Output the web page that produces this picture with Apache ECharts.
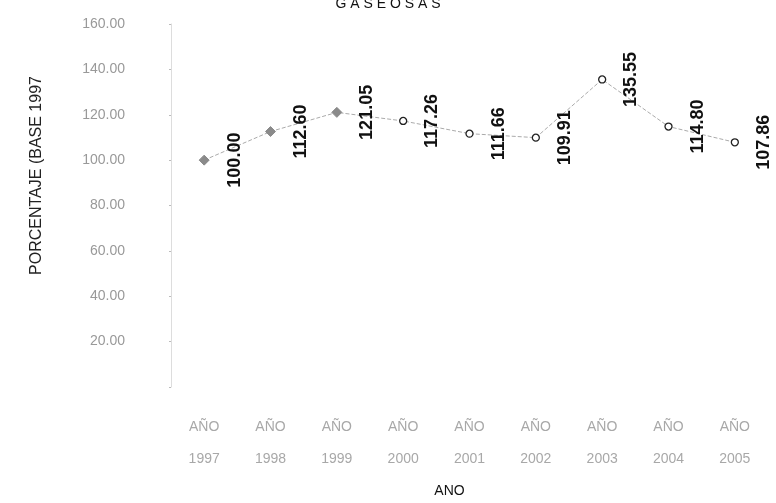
<!DOCTYPE html>
<html>
<head>
<meta charset="utf-8">
<script src="https://cdn.jsdelivr.net/npm/echarts@6/dist/echarts.min.js"></script>
<style>
  html, body { margin: 0; padding: 0; background: #fff; }
  #chart { width: 776px; height: 503px; }
</style>
</head>
<body>
<div id="chart"></div>
<script>
// datos
const years = ['1997', '1998', '1999', '2000', '2001', '2002', '2003', '2004', '2005']
const indice = [100.00, 112.60, 121.05, 117.26, 111.66, 109.91, 135.55, 114.80, 107.86]
const yTicks = [0, 20, 160] // min, intervalo, max

const categories = years.map(y => 'AÑO\n' + y)

const chart = echarts.init(document.getElementById('chart'))

const points = indice.map((v, i) => {
  // los tres primeros años van con marcador gris relleno
  if (i < 3) {
    return { value: v, symbol: 'diamond', symbolSize: 10, itemStyle: { color: '#8a8a8a', borderColor: '#8a8a8a' } }
  }
  return { value: v, symbol: 'circle', symbolSize: 7, itemStyle: { color: '#fff', borderColor: '#222', borderWidth: 1.3 } }
})

chart.setOption({
  animation: false,
  textStyle: { fontFamily: 'Liberation Sans, Arial, sans-serif' },
  title: {
    text: 'G A S E O S A S',
    left: 'center',
    top: -8,
    textStyle: { fontSize: 14, fontWeight: 'normal', color: '#111' }
  },
  grid: { left: 171, right: 8, top: 24, bottom: 109 },
  xAxis: {
    type: 'category',
    data: categories,
    name: 'ANO',
    nameLocation: 'middle',
    nameGap: 97,
    nameTextStyle: { fontSize: 14, color: '#111', padding: [0, 40, 0, 0] },
    axisLine: { show: false },
    axisTick: { show: false },
    axisLabel: { color: '#a8a8a8', fontSize: 14, margin: 24, lineHeight: 32 }
  },
  yAxis: {
    type: 'value',
    min: yTicks[0],
    max: yTicks[2],
    interval: yTicks[1],
    name: 'PORCENTAJE (BASE 1997',
    nameLocation: 'middle',
    nameGap: 126,
    nameTextStyle: { fontSize: 16, color: '#222', padding: [0, 0, 0, 60] },
    axisLine: { show: true, lineStyle: { color: '#ddd' } },
    axisTick: { show: true, length: 2, lineStyle: { color: '#bbb' } },
    splitLine: { show: false },
    axisLabel: {
      color: '#999',
      fontSize: 14,
      margin: 46,
      formatter: v => (v === 0 ? '' : v.toFixed(2))
    }
  },
  series: [{
    type: 'line',
    data: points,
    lineStyle: { color: '#aaa', width: 1, type: 'dashed' },
    label: {
      show: true,
      position: 'right',
      distance: 25,
      rotate: 90,
      align: 'center',
      verticalAlign: 'middle',
      fontSize: 18,
      fontWeight: 'bold',
      color: '#111',
      formatter: p => p.value.toFixed(2)
    }
  }]
})
</script>
</body>
</html>
